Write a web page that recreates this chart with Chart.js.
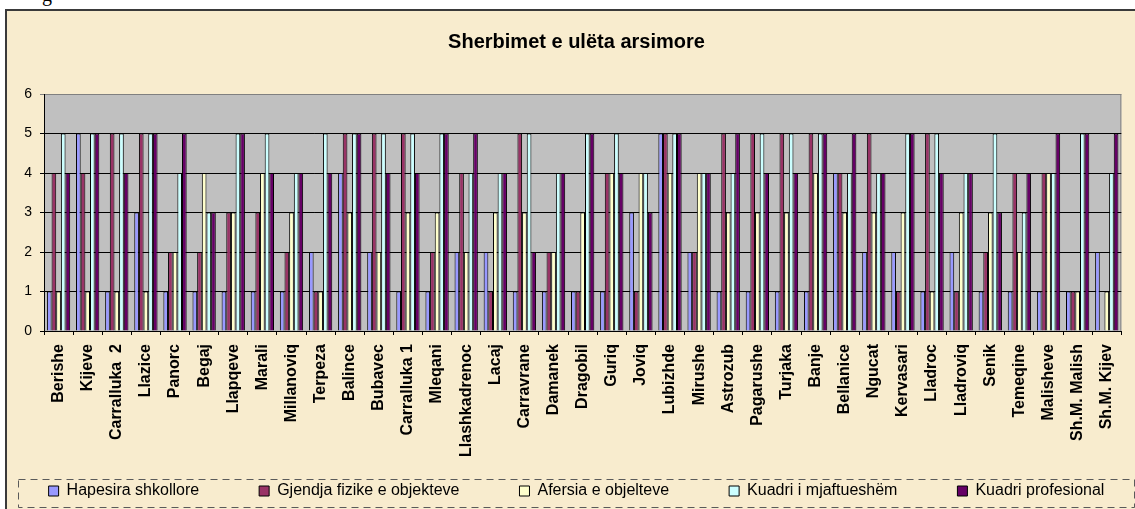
<!DOCTYPE html>
<html>
<head>
<meta charset="utf-8">
<title>Sherbimet e ulëta arsimore</title>
<script src="https://cdn.jsdelivr.net/npm/chart.js@4.4.1/dist/chart.umd.min.js"></script>
<style>
    html, body {
        margin: 0;
        padding: 0;
        background: #ffffff;
        overflow: hidden;
    }
    #page {
        position: relative;
        width: 1135px;
        height: 509px;
        overflow: hidden;
    }
    #frame {
        position: absolute;
        left: 5px;
        top: 9px;
        width: 1200px;
        height: 600px;
        border-top: 2px solid #3a3a3a;
        border-left: 2px solid #3a3a3a;
        background: #f8ecce;
    }
    #word {
        position: absolute;
        left: 42px;
        top: -16px;
        font-family: "Liberation Serif", "Times New Roman", serif;
        font-size: 20px;
        line-height: 20px;
        color: #000;
    }
    #chart-barras {
        position: absolute;
        left: 0;
        top: 0;
    }
</style>
</head>
<body>
<div id="page">
    <div id="word">g</div>
    <div id="frame"></div>
    <canvas id="chart-barras" width="1135" height="509"></canvas>
</div>
<script>
const categorias = [
    "Berishe", "Kijeve", "Carralluka  2", "Llazice", "Panorc", "Begaj",
    "Llapqeve", "Marali", "Millanoviq", "Terpeza", "Balince", "Bubavec",
    "Carralluka 1", "Mleqani", "Llashkadrenoc", "Lacaj", "Carravrane",
    "Damanek", "Dragobil", "Guriq", "Joviq", "Lubizhde", "Mirushe",
    "Astrozub", "Pagarushe", "Turjaka", "Banje", "Bellanice", "Ngucat",
    "Kervasari", "Lladroc", "Lladroviq", "Senik", "Temeqine", "Malisheve",
    "Sh.M. Malish", "Sh.M. Kijev",
];

// one value per school, same order as categorias
const hapesira = [1, 5, 1, 3, 1, 1, 1, 1, 1, 2, 4, 2, 1, 1, 2, 2, 1, 1, 1, 1, 3, 5, 2, 1, 1, 1, 1, 4, 2, 2, 1, 2, 1, 1, 1, 1, 2];
const gjendja = [4, 4, 5, 5, 2, 2, 3, 3, 2, 1, 5, 5, 5, 2, 4, 1, 5, 2, 1, 4, 1, 5, 2, 5, 5, 5, 5, 4, 5, 1, 5, 1, 2, 4, 4, 1, 0];
const afersia = [1, 1, 1, 1, 2, 4, 3, 4, 3, 1, 3, 2, 3, 3, 2, 3, 3, 2, 3, 4, 4, 4, 4, 3, 3, 3, 4, 3, 3, 3, 1, 3, 3, 2, 4, 1, 1];
const kuadriMjaft = [5, 5, 5, 5, 4, 3, 5, 5, 4, 5, 5, 5, 5, 5, 4, 4, 5, 4, 5, 5, 4, 5, 4, 4, 5, 5, 5, 4, 4, 5, 5, 4, 5, 3, 4, 5, 4];
const kuadriProf = [4, 5, 4, 5, 5, 3, 5, 4, 4, 4, 5, 4, 4, 5, 5, 4, 2, 4, 5, 4, 3, 5, 4, 5, 4, 4, 5, 5, 4, 5, 4, 4, 3, 4, 5, 5, 5];

const serieNombres = [
    "Hapesira shkollore",
    "Gjendja fizike e objekteve",
    "Afersia e objelteve",
    "Kuadri i mjaftueshëm",
    "Kuadri profesional",
];
const yTicks = [0, 1, 2, 3, 4, 5, 6];

const colores = ["#9999ff", "#993366", "#ffffcc", "#ccffff", "#660066"];

// gray plot area like the old excel charts
const fondoGris = {
    id: "fondoGris",
    beforeDraw(chart) {
        const { ctx, chartArea: a } = chart;
        ctx.save();
        ctx.fillStyle = "#c0c0c0";
        ctx.fillRect(a.left, a.top, a.right - a.left, a.bottom - a.top);
        ctx.strokeStyle = "#808080";
        ctx.lineWidth = 1;
        ctx.strokeRect(a.left + 0.5, a.top + 0.5, a.right - a.left - 1, a.bottom - a.top);
        ctx.restore();
    },
};

// dashed box around the legend
const marcoLeyenda = {
    id: "marcoLeyenda",
    afterDraw(chart) {
        const { ctx } = chart;
        const lg = chart.legend;
        ctx.save();
        ctx.strokeStyle = "#5a5a5a";
        ctx.lineWidth = 1;
        ctx.setLineDash([7, 5]);
        ctx.strokeRect(18.5, lg.bottom - 29.5, chart.width - 19, 28);
        ctx.restore();
    },
};

Chart.defaults.font.family = "'Liberation Sans', Arial, sans-serif";
Chart.defaults.color = "#000";

const series = [hapesira, gjendja, afersia, kuadriMjaft, kuadriProf];
const datasets = series.map((valores, i) => ({
    label: serieNombres[i],
    data: valores,
    backgroundColor: colores[i],
    borderColor: "#000",
    borderWidth: 1,
    categoryPercentage: 0.8,
    barPercentage: 1.0,
}));

const ctx = document.getElementById("chart-barras").getContext("2d");
new Chart(ctx, {
    type: "bar",
    data: {
        labels: categorias,
        datasets: datasets,
    },
    plugins: [fondoGris, marcoLeyenda],
    options: {
        responsive: false,
        animation: false,
        devicePixelRatio: 1,
        layout: {
            padding: { left: 20, right: 2, top: 0, bottom: 0 },
        },
        plugins: {
            title: {
                display: true,
                text: "Sherbimet e ulëta arsimore",
                font: { size: 20, weight: "bold" },
                color: "#000",
                padding: { top: 30, bottom: 40 },
            },
            legend: {
                display: true,
                position: "bottom",
                labels: {
                    boxWidth: 10,
                    boxHeight: 10,
                    padding: 20,
                    font: { size: 16 },
                    color: "#000",
                    // small padding keeps the legend low, the spaces give the wide gaps
                    generateLabels(chart) {
                        const items = Chart.defaults.plugins.legend.labels.generateLabels(chart);
                        items.forEach((it, i) => {
                            if (i < items.length - 1) it.text = it.text + "         ";
                        });
                        return items;
                    },
                },
            },
            tooltip: { enabled: false },
        },
        scales: {
            x: {
                grid: {
                    offset: true,
                    drawOnChartArea: false,
                    drawTicks: true,
                    tickLength: 4,
                    color: "#000",
                },
                border: { color: "#000", width: 1 },
                ticks: {
                    autoSkip: false,
                    maxRotation: 90,
                    minRotation: 90,
                    padding: 9,
                    font: { size: 16, weight: "bold" },
                    color: "#000",
                },
                afterFit(scale) {
                    scale.height = scale.chart.height - scale.chart.legend.height - 331;
                },
            },
            y: {
                min: 0,
                max: 6,
                afterBuildTicks(scale) {
                    scale.ticks = yTicks.map((v) => ({ value: v }));
                },
                grid: {
                    color: (c) => (c.tick && c.tick.value === 6 ? "#808080" : "#000"),
                    tickLength: 4,
                },
                border: { color: "#000", width: 1 },
                ticks: {
                    padding: 8,
                    font: { size: 14 },
                    color: "#000",
                },
                afterFit(scale) {
                    scale.width = 24;
                },
            },
        },
    },
});
</script>
</body>
</html>
